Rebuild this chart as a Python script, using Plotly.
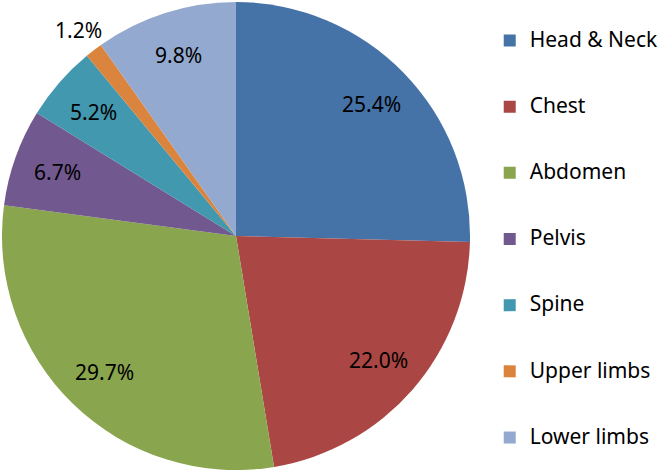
import math
import plotly.graph_objects as go

categories = ["Head & Neck", "Chest", "Abdomen", "Pelvis", "Spine", "Upper limbs", "Lower limbs"]
values = [25.4, 22.0, 29.7, 6.7, 5.2, 1.2, 9.8]
colors = ["#4572A7", "#AA4643", "#89A54E", "#71588F", "#4198AF", "#DB843D", "#93A9CF"]
label_outside = [False, False, False, False, False, True, False]

W, H = 660, 472
# pie domain in pixels (left, right, top, bottom)
PX0, PX1, PY0, PY1 = 2, 470, 2, 470
CX, CY = (PX0 + PX1) / 2, (PY0 + PY1) / 2
R = min(PX1 - PX0, PY1 - PY0) / 2

legend_labels = [" <br><span style='font-size:21px'>" + c + "</span><br> " for c in categories]
pct_text = [f"{v:.1f}%" for v in values]

fig = go.Figure(go.Pie(
    labels=legend_labels,
    values=values,
    text=pct_text,
    textinfo="none",
    customdata=categories,
    hovertemplate="%{customdata}: %{text}<extra></extra>",
    marker=dict(colors=colors, line=dict(width=0)),
    sort=False,
    direction="clockwise",
    rotation=0,
    domain=dict(x=[PX0 / W, PX1 / W], y=[1 - PY1 / H, 1 - PY0 / H]),
))

# data labels placed at each slice's mid-angle (derived from the values)
total = sum(values)
cum = 0.0
annotations = []
for v, t, out in zip(values, pct_text, label_outside):
    mid = (cum + v / 2) / total * 2 * math.pi
    cum += v
    k = 1.11 if out else 0.81
    xp = CX + k * R * math.sin(mid)
    yp = CY - k * R * math.cos(mid)
    annotations.append(dict(
        x=xp / W, y=1 - yp / H, xref="paper", yref="paper",
        text=t, showarrow=False, xanchor="center", yanchor="middle",
        font=dict(family="Noto Sans", size=21, color="black"),
    ))

fig.update_layout(
    width=W, height=H,
    margin=dict(l=0, r=0, t=0, b=0, autoexpand=False),
    paper_bgcolor="white",
    showlegend=True,
    annotations=annotations,
    legend=dict(
        x=0.742, xanchor="left", y=0.995, yanchor="top",
        font=dict(family="Noto Sans", size=16.2, color="black"),
        valign="middle",
    ),
)

fig.write_html("out.html", config={"displayModeBar": False},
               post_script="document.body.style.margin='0';")
